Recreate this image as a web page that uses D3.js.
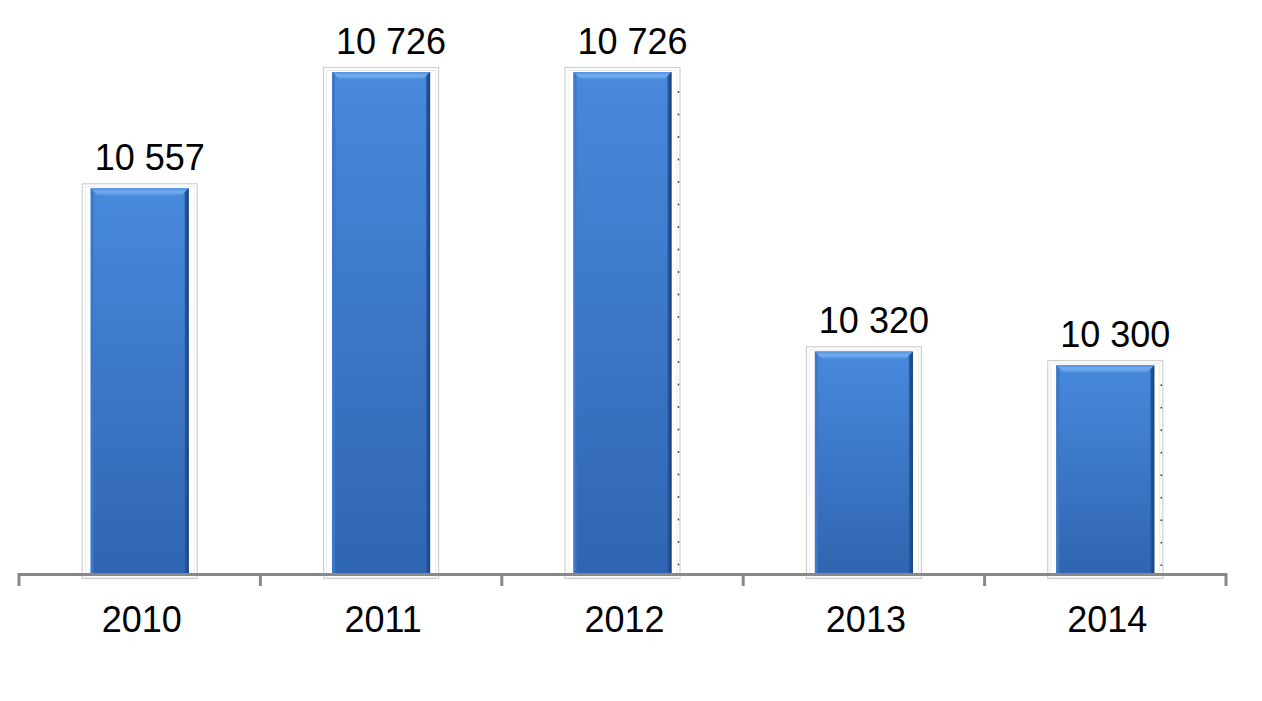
<!DOCTYPE html>
<html><head><meta charset="utf-8">
<script src="https://cdn.jsdelivr.net/npm/d3@7"></script>
<style>html,body{margin:0;padding:0;background:#fff;}svg{display:block;font-family:"Liberation Sans",Arial,sans-serif;}</style>
</head><body>
<svg id="c" width="1262" height="701"></svg>
<script>
const categories = ["2010","2011","2012","2013","2014"];
const values = [10557, 10726, 10726, 10320, 10300];
const valueLabels = ["10 557","10 726","10 726","10 320","10 300"];
const dottedFrames = ["2012","2014"];

const svg = d3.select("#c");
const x = d3.scaleBand().domain(categories).range([19, 1226]).paddingInner(0).paddingOuter(0);
const y = d3.scaleLinear().domain([9998, 10726]).range([573, 72]);
const bw = 98;

const defs = svg.append("defs");
const g1 = defs.append("linearGradient").attr("id","bg").attr("x1",0).attr("y1",0).attr("x2",0).attr("y2",1);
g1.append("stop").attr("offset","0%").attr("stop-color","#4889dc");
g1.append("stop").attr("offset","100%").attr("stop-color","#2f65b0");
const g2 = defs.append("linearGradient").attr("id","rg").attr("x1",0).attr("y1",0).attr("x2",1).attr("y2",0);
g2.append("stop").attr("offset","0%").attr("stop-color","#2a5da3");
g2.append("stop").attr("offset","100%").attr("stop-color","#173f78");
const g3 = defs.append("linearGradient").attr("id","tg").attr("x1",0).attr("y1",0).attr("x2",0).attr("y2",1);
g3.append("stop").attr("offset","0%").attr("stop-color","#4f90e0");
g3.append("stop").attr("offset","50%").attr("stop-color","#74adee");
g3.append("stop").attr("offset","100%").attr("stop-color","#5596e3");

const bars = svg.append("g").selectAll("g").data(categories).join("g");
bars.each(function(c, i){
  const g = d3.select(this);
  const cx = x(c) + x.bandwidth()/2;
  const x0 = cx - bw/2, x1 = cx + bw/2;
  const top = y(values[i]), bot = y.range()[0];
  // frame
  g.append("rect").attr("x", x0-8.5).attr("y", top-4.5).attr("width", bw+17).attr("height", bot-top+10)
    .attr("fill","none").attr("stroke","#cfcfcf").attr("stroke-width",1.2);
  g.append("rect").attr("x", x0-5.5).attr("y", top-1.5).attr("width", bw+11).attr("height", bot-top+6)
    .attr("fill","none").attr("stroke","#ebebeb").attr("stroke-width",1);
  if (dottedFrames.includes(c)) {
    const dots = d3.range(top + 20, bot - 5, 22.5);
    g.selectAll("circle").data(dots).join("circle")
      .attr("cx", x1 + 7).attr("cy", d => d).attr("r", 0.9).attr("fill", "#444");
  }
  // body
  g.append("rect").attr("x", x0).attr("y", top).attr("width", bw).attr("height", bot-top).attr("fill","url(#bg)");
  // top bevel
  const b = 7;
  g.append("polygon").attr("points", [[x0,top],[x1,top],[x1-b,top+b],[x0+b,top+b]].map(p=>p.join(",")).join(" "))
    .attr("fill","url(#tg)");
  // left bevel
  g.append("polygon").attr("points", [[x0,top],[x0+3,top+3],[x0+3,bot],[x0,bot]].map(p=>p.join(",")).join(" "))
    .attr("fill","#3b78c8");
  // right bevel
  g.append("polygon").attr("points", [[x1,top],[x1,bot],[x1-4,bot],[x1-4,top+4]].map(p=>p.join(",")).join(" "))
    .attr("fill","url(#rg)");
  // value label
  g.append("text").attr("x", cx + 10).attr("y", top-18).attr("text-anchor","middle")
    .attr("font-size",36).attr("fill","#000").text(valueLabels[i]);
});

// axis
const axisY = 573;
svg.append("line").attr("x1",18).attr("x2",1227).attr("y1",axisY+1.5).attr("y2",axisY+1.5)
  .attr("stroke","#888").attr("stroke-width",3);
const edges = categories.map(c => x(c)).concat([x.range()[1]]);
svg.append("g").selectAll("line").data(edges).join("line")
  .attr("x1", d=>d).attr("x2", d=>d).attr("y1", axisY).attr("y2", axisY+13)
  .attr("stroke","#888").attr("stroke-width",3);
svg.append("g").selectAll("text").data(categories).join("text")
  .attr("x", c => x(c)+x.bandwidth()/2 + 2).attr("y", 632).attr("text-anchor","middle")
  .attr("font-size",36).attr("fill","#000").text(c=>c);
</script>
</body></html>
